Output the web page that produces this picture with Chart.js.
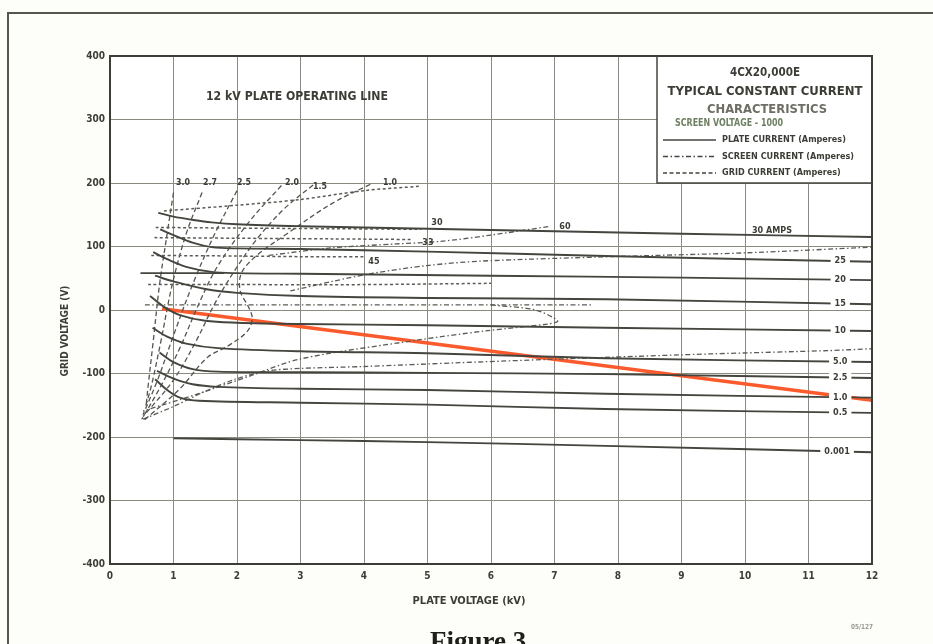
<!DOCTYPE html>
<html>
<head>
<meta charset="utf-8">
<script src="https://cdn.jsdelivr.net/npm/chart.js@4.4.1/dist/chart.umd.min.js"></script>
<style>
  html, body { margin: 0; padding: 0; background: #fdfdf9; }
  #wrap { position: relative; width: 933px; height: 644px; overflow: hidden; }
  canvas { display: block; }
</style>
</head>
<body>
<div id="wrap"><canvas id="chart" width="933" height="644"></canvas></div>
<script>
// plate current curves (solid): plate kV vs grid V
const plateCurrents = ['30 AMPS', '25', '20', '15', '10', '5.0', '2.5', '1.0', '0.5', '0.001'];
const plateKV = [
  [0.76, 1.0, 1.3, 1.6, 2, 3, 5, 7, 9, 12],
  [0.79, 1.0, 1.3, 1.6, 2, 3, 5, 7.8, 12],
  [0.68, 0.9, 1.2, 1.6, 2, 3, 6, 9, 12],
  [0.71, 1.0, 1.5, 2, 3, 5, 7.8, 12],
  [0.63, 0.85, 1.1, 1.5, 2, 3, 5, 7.8, 12],
  [0.67, 0.9, 1.2, 1.7, 3, 5, 7.8, 12],
  [0.78, 1.0, 1.3, 1.7, 3, 5, 7.8, 12],
  [0.74, 1.0, 1.3, 1.7, 3, 5, 7.8, 12],
  [0.71, 0.9, 1.1, 1.4, 3, 5, 7.8, 12],
  [1.0, 3, 5, 7.8, 12]
];
const plateGridV = [
  [153, 147, 142, 138, 135, 132, 128, 124, 120, 115],
  [127, 118, 106, 99, 97, 96, 92, 85, 76],
  [91, 80, 68, 60, 58, 57, 54, 51, 47],
  [54, 45, 33, 27, 22, 19, 17, 9],
  [22, 5, -8, -17, -20, -22, -24, -28, -33],
  [-28, -42, -53, -60, -65, -68, -76, -82],
  [-67, -82, -93, -97, -98, -99, -101, -107],
  [-96, -108, -117, -121, -124, -126, -132, -138],
  [-109, -126, -138, -143, -146, -149, -156, -162],
  [-202, -205, -208, -214, -224]
];
const flatKV = [0.48, 1.8];
const flatGridV = [58, 58];

// 12 kV operating line
const opKV = [0.82, 12];
const opGridV = [2, -142];

// grid current curves (dashed), labelled along the top
const gridCurrents = ['3.0', '2.7', '2.5', '2.0', '1.5', '1.0'];
const gridKV = [
  [1.0, 0.9, 0.78, 0.68, 0.6, 0.57],
  [1.45, 1.2, 0.98, 0.8, 0.65, 0.55],
  [2.0, 1.65, 1.3, 1.0, 0.75, 0.52],
  [2.7, 2.2, 1.7, 1.4, 1.1, 0.8, 0.5],
  [3.2, 2.75, 2.3, 1.95, 1.65, 1.35, 1.0, 0.52],
  [4.1, 3.5, 2.8, 2.3, 2.07, 2.05, 2.18, 2.24, 2.15, 1.85, 1.53, 1.1, 0.52]
];
const gridGridV = [
  [185, 120, 40, -50, -120, -150],
  [185, 120, 40, -50, -120, -155],
  [188, 120, 40, -40, -110, -165],
  [196, 140, 70, 10, -60, -120, -172],
  [197, 160, 110, 60, 10, -50, -110, -168],
  [198, 168, 121, 85, 58, 30, 5, -14, -35, -57, -75, -124, -175]
];

// flat grid current runs (short dashes)
const dotKV = [
  [0.85, 2, 3, 4, 4.9],
  [0.72, 2, 3.5, 4.9],
  [0.7, 2, 3.5, 4.75],
  [0.65, 2, 3, 4.0],
  [0.6, 2, 4, 6.0]
];
const dotGridV = [
  [156, 165, 174, 188, 195],
  [130, 129, 128, 127],
  [114, 113, 112, 111],
  [86, 85, 84, 84],
  [40, 40, 40, 42]
];

// screen current curves (dash-dot)
const screenKV = [
  [2.5, 3.5, 4.5, 5.2, 6, 6.94],
  [2.84, 3.5, 4.15, 5, 5.84, 7.9, 10, 12],
  [0.55, 3, 6, 7.6],
  [6.0, 6.7, 7.05, 6.9, 5.9, 4.8, 3, 2.2, 1.42, 0.52],
  [0.52, 1.0, 1.5, 2.0, 2.48, 3.0, 4, 5.5, 7.7, 9.5, 11.3, 12]
];
const screenGridV = [
  [86, 98, 104, 108, 118, 132],
  [30, 45, 58, 70, 77, 84, 90, 99],
  [8, 8, 8, 8],
  [8, 0, -17, -22, -33, -48, -77, -104, -131, -159],
  [-172, -152, -128, -108, -96, -92, -89, -83, -75, -69, -64, -61]
];

const xTicks = [0, 1, 2, 3, 4, 5, 6, 7, 8, 9, 10, 11, 12];
const yTicks = [-400, -300, -200, -100, 0, 100, 200, 300, 400];

const FONT = '"Liberation Sans Narrow", "DejaVu Sans Condensed", "Arial Narrow", sans-serif';
const ink = '#3d3d37';

function pts(xs, ys) { return xs.map((x, i) => ({ x: x, y: ys[i] })); }

const datasets = [];
plateKV.forEach((xs, i) => datasets.push({
  data: pts(xs, plateGridV[i]), borderColor: '#45453f', borderWidth: 1.9, tension: 0.35
}));
datasets.push({ data: pts(flatKV, flatGridV), borderColor: '#45453f', borderWidth: 1.7, tension: 0 });
dotKV.forEach((xs, i) => datasets.push({
  data: pts(xs, dotGridV[i]), borderColor: '#5b5b55', borderWidth: 1.5, borderDash: [3, 2.5], tension: 0.3
}));
gridKV.forEach((xs, i) => datasets.push({
  data: pts(xs, gridGridV[i]), borderColor: '#55554f', borderWidth: 1.3, borderDash: [5, 3], tension: 0.35
}));
screenKV.forEach((xs, i) => datasets.push({
  data: pts(xs, screenGridV[i]), borderColor: '#5b5b55', borderWidth: 1.3, borderDash: [5, 2.5, 1.5, 2.5], tension: 0.3
}));
datasets.push({ data: pts(opKV, opGridV), borderColor: '#fa5a2c', borderWidth: 3.5, tension: 0 });
datasets.forEach(d => { d.showLine = true; d.pointRadius = 0; d.fill = false; });

function interpAt(xs, ys, x) {
  for (let i = 1; i < xs.length; i++) {
    if (x <= xs[i]) return ys[i - 1] + (ys[i] - ys[i - 1]) * (x - xs[i - 1]) / (xs[i] - xs[i - 1]);
  }
  return ys[ys.length - 1];
}

function txt(ctx, s, x, y, size, o) {
  o = o || {};
  ctx.save();
  ctx.font = 'bold ' + size + 'px ' + FONT;
  ctx.textAlign = o.align || 'center';
  ctx.textBaseline = 'middle';
  if (o.bg) {
    const w = Math.min(ctx.measureText(s).width, o.maxW || 999);
    ctx.fillStyle = '#ffffff';
    ctx.fillRect(x - w / 2 - 4, y - size / 2 - 1, w + 8, size + 2);
  }
  ctx.fillStyle = o.color || ink;
  if (o.rot) {
    ctx.translate(x, y);
    ctx.rotate(o.rot);
    ctx.fillText(s, 0, 0);
  } else if (o.maxW) ctx.fillText(s, x, y, o.maxW); else ctx.fillText(s, x, y);
  ctx.restore();
}

const decor = {
  id: 'decor',
  beforeDraw(chart) {
    const ctx = chart.ctx, a = chart.chartArea;
    ctx.save();
    ctx.fillStyle = '#fdfdf9';
    ctx.fillRect(0, 0, chart.width, chart.height);
    ctx.fillStyle = '#ffffff';
    ctx.fillRect(a.left, a.top, a.right - a.left, a.bottom - a.top);
    // page frame
    ctx.strokeStyle = '#55554e';
    ctx.lineWidth = 2;
    ctx.beginPath();
    ctx.moveTo(8, 644); ctx.lineTo(8, 13); ctx.lineTo(933, 13);
    ctx.stroke();
    ctx.restore();
  },
  beforeDatasetsDraw(chart) {
    const ctx = chart.ctx, a = chart.chartArea;
    // legend / title box
    const bx = a.right - 215, by = a.top, bw = 215, bh = 127;
    ctx.save();
    ctx.fillStyle = '#ffffff';
    ctx.fillRect(bx, by, bw, bh);
    ctx.strokeStyle = '#45453f';
    ctx.lineWidth = 1.5;
    ctx.strokeRect(bx, by, bw, bh);
    ctx.restore();
  },
  afterDatasetsDraw(chart) {
    const ctx = chart.ctx, a = chart.chartArea;
    const xs = chart.scales.x, ys = chart.scales.y;
    // plot frame
    ctx.save();
    ctx.strokeStyle = '#3d3d37';
    ctx.lineWidth = 2;
    ctx.strokeRect(a.left, a.top, a.right - a.left, a.bottom - a.top);
    ctx.restore();

    const bx = a.right - 215, cx = bx + 108;
    txt(ctx, '4CX20,000E', cx, a.top + 17, 12, { maxW: 70 });
    txt(ctx, 'TYPICAL CONSTANT CURRENT', cx, a.top + 36, 13, { maxW: 200 });
    txt(ctx, 'CHARACTERISTICS', cx + 2, a.top + 54, 13, { maxW: 120, color: '#6e6e66' });
    txt(ctx, 'SCREEN VOLTAGE - 1000', bx + 18, a.top + 67, 10, { align: 'left', maxW: 108, color: '#6f8062' });
    const rows = [
      ['PLATE CURRENT (Amperes)', []],
      ['SCREEN CURRENT (Amperes)', [5, 2.5, 1.5, 2.5]],
      ['GRID CURRENT (Amperes)', [4, 2.5]]
    ];
    rows.forEach((r, i) => {
      const y = a.top + 84 + i * 16.5;
      ctx.save();
      ctx.strokeStyle = '#45453f';
      ctx.lineWidth = 1.4;
      ctx.setLineDash(r[1]);
      ctx.beginPath(); ctx.moveTo(bx + 6, y); ctx.lineTo(bx + 59, y); ctx.stroke();
      ctx.restore();
      txt(ctx, r[0], bx + 65, y, 9, { align: 'left', maxW: 145 });
    });

    txt(ctx, '12 kV PLATE OPERATING LINE', 297, 97, 13, { maxW: 182 });

    // grid current labels along the top
    const topPos = [[183, 183], [210, 183], [244, 183], [292, 183], [320, 187], [390, 183]];
    gridCurrents.forEach((s, i) => txt(ctx, s, topPos[i][0], topPos[i][1], 9, { maxW: 14 }));
    // other curve labels
    txt(ctx, '30', 437, 223, 9, { maxW: 12 });
    txt(ctx, '33', 428, 243, 9, { maxW: 12 });
    txt(ctx, '45', 374, 262, 9, { maxW: 12 });
    txt(ctx, '60', 565, 227, 9, { maxW: 12 });

    // plate current labels on the right
    plateCurrents.forEach((s, i) => {
      if (i === 0) {
        txt(ctx, s, 772, 231, 9, { maxW: 40 });
        return;
      }
      const lx = i === 9 ? 11.45 : 11.5;
      const py = ys.getPixelForValue(interpAt(plateKV[i], plateGridV[i], lx));
      const px = xs.getPixelForValue(lx);
      txt(ctx, s, px, py, 9, { bg: true, maxW: i === 9 ? 26 : 16 });
    });

    // axis titles
    txt(ctx, 'PLATE VOLTAGE (kV)', 469, 601, 11, { maxW: 118 });
    txt(ctx, 'GRID VOLTAGE (V)', 65, 331, 10, { rot: -Math.PI / 2 });

    // figure caption fragments
    txt(ctx, '05/127', 862, 627, 7, { color: '#9a9a92', maxW: 22 });
    ctx.save();
    ctx.font = 'bold 27px "Liberation Serif", serif';
    ctx.fillStyle = '#1e1e1a';
    ctx.textAlign = 'left';
    ctx.textBaseline = 'alphabetic';
    ctx.fillText('Figure 3', 430, 650);
    ctx.restore();
  }
};

const tickFont = { family: FONT, size: 10, weight: 'bold' };

new Chart(document.getElementById('chart'), {
  type: 'scatter',
  data: { datasets: datasets },
  options: {
    responsive: false,
    animation: false,
    devicePixelRatio: 1,
    layout: { padding: { left: 0, top: 56, right: 61, bottom: 0 } },
    plugins: { legend: { display: false }, tooltip: { enabled: false } },
    scales: {
      x: {
        type: 'linear', min: 0, max: 12,
        afterBuildTicks: s => { s.ticks = xTicks.map(v => ({ value: v })); },
        afterFit: s => { s.height = 80; },
        ticks: { color: ink, font: tickFont, padding: 6, maxRotation: 0 },
        grid: { color: '#8a8a7e', lineWidth: 1, drawTicks: false },
        border: { color: '#3d3d37', width: 2 }
      },
      y: {
        type: 'linear', min: -400, max: 400,
        afterBuildTicks: s => { s.ticks = yTicks.map(v => ({ value: v })); },
        afterFit: s => { s.width = 110; },
        ticks: { color: ink, font: tickFont, padding: 5 },
        grid: { color: '#8a8a7e', lineWidth: 1, drawTicks: false },
        border: { color: '#3d3d37', width: 2 }
      }
    }
  },
  plugins: [decor]
});
</script>
</body>
</html>
